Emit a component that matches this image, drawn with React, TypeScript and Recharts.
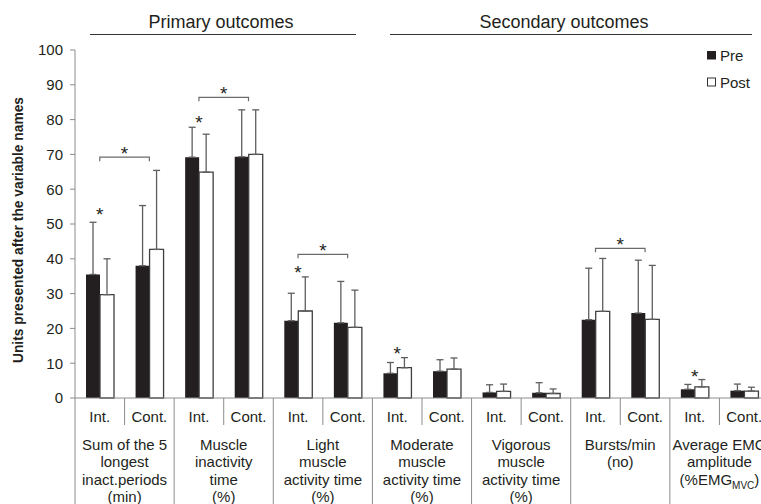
import React from 'react';
import {
  BarChart,
  Bar,
  XAxis,
  YAxis,
  ErrorBar,
  ReferenceLine,
  ReferenceDot,
  Customized,
} from 'recharts';

// Outcome variables, each split into intervention / control arm
const groupLabels: string[][] = [
  ['Sum of the 5', 'longest', 'inact.periods', '(min)'],
  ['Muscle', 'inactivity', 'time', '(%)'],
  ['Light', 'muscle', 'activity time', '(%)'],
  ['Moderate', 'muscle', 'activity time', '(%)'],
  ['Vigorous', 'muscle', 'activity time', '(%)'],
  ['Bursts/min', '(no)'],
  ['Average EMG', 'amplitude', '%EMG_MVC'],
];
const arms = ['Int.', 'Cont.'];
const seriesNames = ['Pre', 'Post'];

// Means and SDs, ordered group by group: Int., Cont.
const preMean = [35.5, 38.0, 69.2, 69.3, 22.2, 21.6, 7.1, 7.7, 1.6, 1.5, 22.5, 24.4, 2.5, 2.1];
const preSd = [15.0, 17.3, 8.6, 13.5, 7.9, 11.9, 3.1, 3.3, 2.2, 2.9, 14.8, 15.2, 1.4, 1.9];
const postMean = [29.7, 42.7, 64.9, 70.0, 25.0, 20.3, 8.7, 8.3, 1.9, 1.3, 24.9, 22.6, 3.2, 2.0];
const postSd = [10.3, 22.7, 10.9, 12.8, 9.8, 10.7, 2.9, 3.2, 2.1, 1.3, 15.2, 15.5, 2.1, 1.1];

// Significance marks: single stars (sub-category index) and Int.-vs-Cont. brackets (group index)
const starIndex = [0, 2, 4, 6, 12];
const starLevel = [54, 80.3, 37.2, 13.8, 7.2];
const bracketGroup = [0, 1, 2, 5];
const bracketLevel = [69.2, 86.4, 41.3, 43.0];

const yTicks = [0, 10, 20, 30, 40, 50, 60, 70, 80, 90, 100];

const catId = (i: number) => `${Math.floor(i / 2)}-${arms[i % 2]}`;

const data = preMean.map((_, i) => ({
  id: catId(i),
  pre: preMean[i],
  post: postMean[i],
  preErr: [0, preSd[i]],
  postErr: [0, postSd[i]],
}));

const W = 780;
const H = 504;
const M = { top: 50, right: 11, bottom: 0, left: 0 };
const Y_W = 75;
const X_H = 106;
const BAND = (W - M.left - M.right - Y_W) / data.length;

const INK = '#231f20';
const GREY = '#8c8c8c';
const FONT = '"Liberation Sans", Arial, sans-serif';

const ArmTick = (props: any) => {
  const { x, y, index } = props;
  const half = BAND / 2;
  const isCont = index % 2 === 1;
  const lines = groupLabels[Math.floor(index / 2)];
  const gx = x - half;
  return (
    <g>
      {index === 0 && <line x1={x - half} y1={y} x2={x - half} y2={y + 110} stroke={GREY} />}
      <line
        x1={x + half}
        y1={y}
        x2={x + half}
        y2={isCont ? y + 110 : y + 27}
        stroke={GREY}
      />
      <text x={x} y={y + 23.5} textAnchor="middle" fontSize={15} fill={INK} fontFamily={FONT}>
        {arms[index % 2]}
      </text>
      {isCont &&
        lines.map((ln, k) => (
          <text
            key={k}
            x={gx}
            y={y + 51.5 + k * 17.5}
            textAnchor="middle"
            fontSize={15}
            fill={INK}
            fontFamily={FONT}
          >
            {ln.includes('_') ? (
              <>
                <tspan>({ln.split('_')[0]}</tspan>
                <tspan fontSize={10} dy={4}>
                  {ln.split('_')[1]}
                </tspan>
                <tspan dy={-4}>)</tspan>
              </>
            ) : (
              ln
            )}
          </text>
        ))}
    </g>
  );
};

const Bracket = (props: any) => {
  const { x1, x2, y1 } = props;
  return (
    <g>
      <path
        d={`M${x1},${y1 + 4}V${y1}H${x2}V${y1 + 4}`}
        fill="none"
        stroke="#6b6b6b"
        strokeWidth={1.2}
      />
      <text x={(x1 + x2) / 2} y={y1 + 3} textAnchor="middle" fontSize={19} fill={INK} fontFamily={FONT}>
        *
      </text>
    </g>
  );
};

const Star = (props: any) => {
  const { cx, cy } = props;
  return (
    <text x={cx} y={cy + 10.5} textAnchor="middle" fontSize={19} fill={INK} fontFamily={FONT}>
      *
    </text>
  );
};

// Outcome headers, legend and the rotated y-axis title
const Headers = () => (
  <g fontFamily={FONT} fill={INK}>
    <text x={221} y={28} textAnchor="middle" fontSize={18}>
      Primary outcomes
    </text>
    <line x1={90} y1={34.5} x2={356} y2={34.5} stroke="#333" strokeWidth={1.2} />
    <text x={564} y={28} textAnchor="middle" fontSize={18}>
      Secondary outcomes
    </text>
    <line x1={390} y1={34.5} x2={752} y2={34.5} stroke="#333" strokeWidth={1.2} />
    <text
      x={0}
      y={0}
      transform="translate(23,230) rotate(-90)"
      textAnchor="middle"
      fontSize={13.8}
      fontWeight="bold"
    >
      Units presented after the variable names
    </text>
    <g transform="translate(704,44)">
      <rect x={3} y={7} width={9} height={8.5} fill={INK} />
      <text x={16} y={17} fontSize={15}>
        {seriesNames[0]}
      </text>
      <rect x={3.5} y={34} width={8} height={8} fill="#fff" stroke="#333" />
      <text x={16} y={43.5} fontSize={15}>
        {seriesNames[1]}
      </text>
    </g>
  </g>
);

export default function App() {
  return (
    <div style={{ position: 'absolute', left: 0, top: 0, width: 761, height: 504, overflow: 'hidden', background: '#fff' }}>
      <BarChart width={W} height={H} data={data} margin={M} barSize={14} barGap={0}>
        <XAxis
          dataKey="id"
          height={X_H}
          interval={0}
          tickLine={false}
          tickSize={0}
          tickMargin={0}
          axisLine={{ stroke: GREY }}
          tick={<ArmTick />}
        />
        <YAxis
          width={Y_W}
          domain={[0, 100]}
          ticks={yTicks}
          interval={0}
          tickSize={5}
          tickMargin={7}
          axisLine={{ stroke: GREY }}
          tickLine={{ stroke: GREY }}
          tick={{ fontSize: 15, fill: INK, fontFamily: FONT }}
        />
        <Bar dataKey="pre" name={seriesNames[0]} fill={INK} isAnimationActive={false}>
          <ErrorBar dataKey="preErr" width={3.5} stroke="#5e5e5e" strokeWidth={1.3} isAnimationActive={false} />
        </Bar>
        <Bar dataKey="post" name={seriesNames[1]} fill="#fff" stroke="#3f3f3f" strokeWidth={1.3} isAnimationActive={false}>
          <ErrorBar dataKey="postErr" width={3.5} stroke="#5e5e5e" strokeWidth={1.3} isAnimationActive={false} />
        </Bar>
        {bracketGroup.map((g, k) => (
          <ReferenceLine
            key={`b${g}`}
            segment={[
              { x: catId(g * 2), y: bracketLevel[k] },
              { x: catId(g * 2 + 1), y: bracketLevel[k] },
            ]}
            shape={<Bracket />}
          />
        ))}
        {starIndex.map((i, k) => (
          <ReferenceDot key={`s${i}`} x={catId(i)} y={starLevel[k]} r={0} shape={<Star />} />
        ))}
        <Customized component={<Headers />} />
      </BarChart>
    </div>
  );
}
